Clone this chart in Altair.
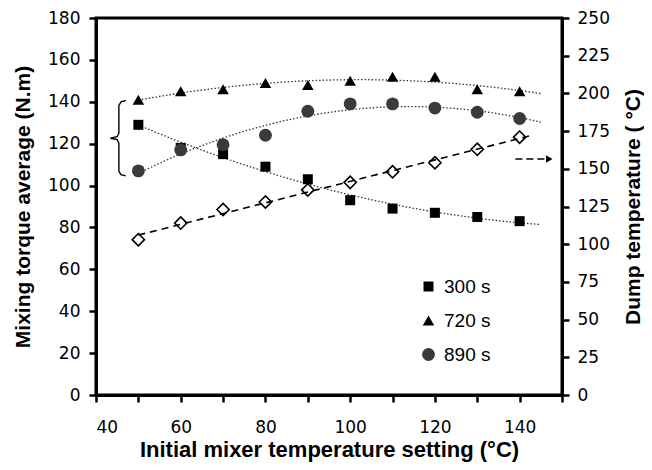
import altair as alt
import pandas as pd

# ---- data ----
x_setting = [50, 60, 70, 80, 90, 100, 110, 120, 130, 140]
torque_300 = [129, 118, 115, 109, 103, 93, 89, 87, 85, 83]
torque_720 = [141, 145, 146, 149, 148, 150, 152, 152, 146, 145]
torque_890 = [107, 117, 119.5, 124, 135.5, 139, 139, 137, 135, 132]
dump_temp = [103, 114, 123, 128, 136, 141, 148, 154, 163, 171]
series_names = ["300 s", "720 s", "890 s"]

# annotation: brace (left scale) and arrow (right scale), in data units
brace_x = [47.0, 45.9, 45.4, 45.4, 45.0, 43.4, 45.0, 45.4, 45.4, 45.9, 47.0]
brace_y = [140.6, 140.0, 138.3, 125.0, 123.3, 122.6, 121.9, 120.2, 106.8, 105.2, 104.6]
arrow_x = [139.0, 147.0]
arrow_y = [156.5, 156.5]

rows = []
for name, vals in zip(series_names, [torque_300, torque_720, torque_890]):
    for xv, yv in zip(x_setting, vals):
        rows.append({"x": xv, "torque": yv, "series": name})
df_torque = pd.DataFrame(rows)
df_temp = pd.DataFrame({"x": x_setting, "temp": dump_temp})
df_brace = pd.DataFrame({"x": brace_x, "torque": brace_y, "i": list(range(len(brace_x)))})
df_arrow = pd.DataFrame({"x": arrow_x, "temp": arrow_y})

FONT_LAB = "DejaVu Sans"
FONT_TIT = "Liberation Sans"

x_enc = alt.X(
    "x:Q",
    scale=alt.Scale(domain=[40, 150], nice=False, zero=False),
    axis=alt.Axis(
        values=list(range(40, 151, 10)),
        labelExpr="(datum.value % 20 == 0 && datum.value < 150) ? datum.label : ''",
        title="Initial mixer temperature setting (°C)",
        titleFontSize=22,
        titlePadding=4,
        labelPadding=17,
    ),
)

left_axis = alt.Axis(
    values=list(range(0, 181, 20)),
    title="Mixing torque average (N.m)",
    titleFontSize=21,
    titlePadding=14,
    labelPadding=9,
)
y_left = alt.Y("torque:Q", scale=alt.Scale(domain=[0, 180], nice=False), axis=left_axis)

right_axis = alt.Axis(
    orient="right",
    values=list(range(0, 251, 25)),
    title="Dump temperature ( °C)",
    titleFontSize=21,
    titleAngle=270,
    titleBaseline="top",
    titlePadding=13,
    labelPadding=8,
)
y_right = alt.Y("temp:Q", scale=alt.Scale(domain=[0, 250], nice=False), axis=right_axis)

legend = alt.Legend(
    title=None,
    orient="none",
    legendX=323,
    legendY=259,
    labelFont=FONT_TIT,
    labelFontSize=19,
    labelColor="black",
    symbolSize=80,
    rowPadding=14,
    labelOffset=6,
    padding=0,
)

shape_enc = alt.Shape(
    "series:N",
    scale=alt.Scale(domain=series_names, range=["square", "triangle-up", "circle"]),
    legend=legend,
)
color_enc = alt.Color(
    "series:N",
    scale=alt.Scale(domain=series_names, range=["#000000", "#000000", "#3a3a3a"]),
    legend=legend,
)
size_enc = alt.Size(
    "series:N",
    scale=alt.Scale(domain=series_names, range=[100, 165, 150]),
    legend=None,
)

base_t = alt.Chart(df_torque)

trend_left = (
    base_t.transform_regression("x", "torque", groupby=["series"], method="poly", order=2, extent=[50, 145])
    .mark_line(color="#333333", strokeWidth=1.3, strokeDash=[1.5, 2])
    .encode(x=x_enc, y=y_left, detail="series:N")
)
pts_torque = base_t.mark_point(filled=True, opacity=1).encode(
    x=x_enc, y=y_left, shape=shape_enc, color=color_enc, size=size_enc
)
brace = alt.Chart(df_brace).mark_line(color="black", strokeWidth=1.4).encode(
    x=x_enc, y=y_left, order="i:Q"
)

left = alt.layer(trend_left, brace, pts_torque)

base_d = alt.Chart(df_temp)
trend_temp = (
    base_d.transform_regression("x", "temp", method="linear", extent=[50, 143])
    .mark_line(color="black", strokeWidth=1.6, strokeDash=[7, 5])
    .encode(x=x_enc, y=y_right)
)
pts_temp = base_d.mark_point(
    shape="diamond", filled=False, color="black", strokeWidth=1.6, size=150, opacity=1
).encode(x=x_enc, y=y_right)
arrow_line = alt.Chart(df_arrow).mark_line(
    color="black", strokeWidth=1.6, strokeDash=[7, 4]
).encode(x=x_enc, y=y_right)
arrow_head = (
    alt.Chart(df_arrow)
    .transform_filter(alt.datum.x == max(arrow_x))
    .mark_point(shape="triangle-right", filled=True, color="black", size=55, opacity=1)
    .encode(x=x_enc, y=y_right)
)

right = alt.layer(trend_temp, arrow_line, arrow_head, pts_temp)

chart = (
    alt.layer(left, right)
    .resolve_scale(y="independent")
    .properties(
        width=466,
        height=377,
        autosize=alt.AutoSizeParams(type="none"),
        padding={"left": 88, "top": 10, "right": 82, "bottom": 67},
        background="white",
    )
    .configure_view(stroke="black", strokeWidth=3)
    .configure_axis(
        grid=False,
        domainColor="black",
        domainWidth=3,
        tickColor="black",
        tickWidth=2.5,
        tickSize=7,
        labelFont=FONT_LAB,
        labelFontSize=17,
        labelColor="black",
        titleFont=FONT_TIT,
        titleFontWeight="bold",
        titleColor="black",
    )
)

chart.save("out.html", embed_options={"renderer": "svg", "actions": False})
